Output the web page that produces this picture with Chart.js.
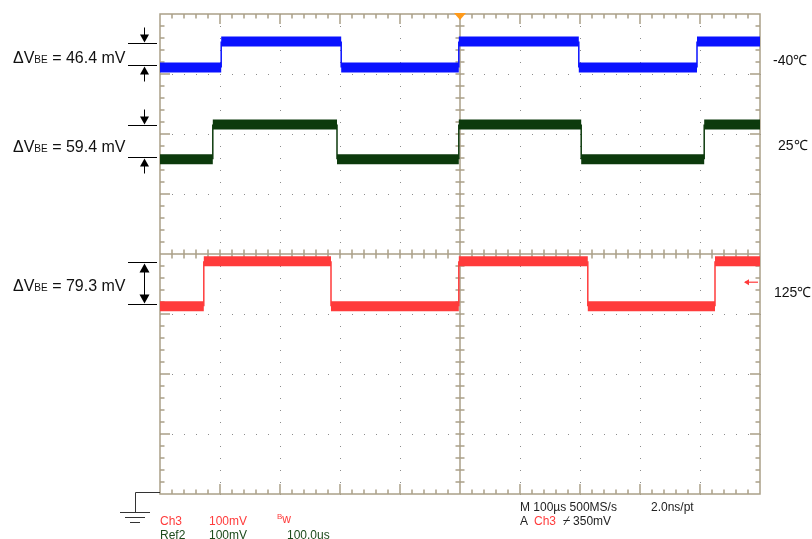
<!DOCTYPE html>
<html>
<head>
<meta charset="utf-8">
<script src="https://cdn.jsdelivr.net/npm/chart.js@4/dist/chart.umd.min.js"></script>
<style>
body{margin:0;background:#fff;}
#wrap{position:relative;width:812px;height:539px;overflow:hidden;font-family:"Liberation Sans",Arial,sans-serif;}
#wrap canvas{position:absolute;left:0;top:0;}
.lbl{position:absolute;white-space:nowrap;line-height:1;}
.dv{font-size:16px;color:#111;}
.dv span{font-size:10px;}
.temp{font-size:14px;color:#111;}
.info{font-size:12px;color:#222;}
.red{color:#ff3b3b;}
.grn{color:#1c4a1c;}
</style>
</head>
<body>
<div id="wrap">
  <canvas id="scope" width="812" height="539"></canvas>
  <div class="lbl dv" style="left:13px;top:50px">ΔV<span>BE</span> = 46.4 mV</div>
  <div class="lbl dv" style="left:13px;top:139px">ΔV<span>BE</span> = 59.4 mV</div>
  <div class="lbl dv" style="left:13px;top:278px">ΔV<span>BE</span> = 79.3 mV</div>
  <div class="lbl temp" style="left:773px;top:53px">-40℃</div>
  <div class="lbl temp" style="left:778px;top:138px">25℃</div>
  <div class="lbl temp" style="left:774px;top:285px">125℃</div>
  <div class="lbl info" style="left:520px;top:501px">M 100µs 500MS/s</div>
  <div class="lbl info" style="left:651px;top:501px">2.0ns/pt</div>
  <div class="lbl info" style="left:520px;top:515px">A <span class="red">&nbsp;Ch3</span> &nbsp;⌿ 350mV</div>
  <div class="lbl info red" style="left:160px;top:515px">Ch3</div>
  <div class="lbl info red" style="left:209px;top:515px">100mV</div>
  <div class="lbl info red" style="left:277px;top:513px"><span style="font-size:8px;vertical-align:top">B</span>w</div>
  <div class="lbl info grn" style="left:160px;top:529px">Ref2</div>
  <div class="lbl info grn" style="left:209px;top:529px">100mV</div>
  <div class="lbl info grn" style="left:287px;top:529px">100.0us</div>
</div>
<script>
'use strict';
// time in us (10 div x 100us), level in mV (8 div x 100mV)
let blueEdges = [0, 102, 302, 498, 698, 895, 1000];
let blueLevels = [311, 354, 311, 354, 311, 354];
let greenEdges = [0, 88, 295, 498, 702, 907, 1000];
let greenLevels = [158, 216, 158, 216, 158, 216];
let redEdges = [0, 73, 285, 498, 713, 925, 1000];
let redLevels = [-87, -12, -87, -12, -87, -12];
let triggerLevel = -47;
let frameColor = '#aaa088';

function buildTrace(edges, levels) {
    let pts = [];
    for (let i = 0; i < levels.length; i++) {
        pts.push({x: edges[i], y: levels[i]});
        pts.push({x: edges[i + 1], y: levels[i]});
    }
    return pts;
}

function traceSet(edges, levels, color) {
    return {
        data: buildTrace(edges, levels),
        borderColor: color,
        borderWidth: 10,
        borderCapStyle: 'butt',
        pointRadius: 0,
        tension: 0,
        segment: {
            borderWidth: ctx => ctx.p0.parsed.x === ctx.p1.parsed.x ? 1.5 : 10
        }
    };
}

let scopeFrame = {
    id: 'scopeFrame',
    beforeDatasetsDraw(chart) {
        let ctx = chart.ctx;
        let xs = chart.scales.x;
        let ys = chart.scales.y;
        let ca = chart.chartArea;
        ctx.save();
        // dotted grid
        ctx.fillStyle = '#8c8c8c';
        for (let t = 100; t < 1000; t += 100) {
            if (t === 500) continue;
            let px = Math.round(xs.getPixelForValue(t));
            for (let v = -400; v <= 400; v += 20) {
                ctx.fillRect(px, Math.round(ys.getPixelForValue(v)), 1, 1);
            }
        }
        for (let v = -300; v < 400; v += 100) {
            if (v === 0) continue;
            let py = Math.round(ys.getPixelForValue(v));
            for (let t = 0; t <= 1000; t += 20) {
                ctx.fillRect(Math.round(xs.getPixelForValue(t)), py, 1, 1);
            }
        }
        // frame and centre axes
        ctx.strokeStyle = frameColor;
        ctx.lineWidth = 1.5;
        ctx.strokeRect(ca.left, ca.top, ca.right - ca.left, ca.bottom - ca.top);
        let cx = xs.getPixelForValue(500);
        let cy = ys.getPixelForValue(0);
        ctx.beginPath();
        ctx.moveTo(cx, ca.top); ctx.lineTo(cx, ca.bottom);
        ctx.moveTo(ca.left, cy); ctx.lineTo(ca.right, cy);
        for (let t = 20; t < 1000; t += 20) {
            let px = xs.getPixelForValue(t);
            let len = t % 100 === 0 ? 10 : 4.5;
            ctx.moveTo(px, ca.top); ctx.lineTo(px, ca.top + len);
            ctx.moveTo(px, ca.bottom); ctx.lineTo(px, ca.bottom - len);
            ctx.moveTo(px, cy - 4.5); ctx.lineTo(px, cy + 4.5);
        }
        for (let v = -380; v < 400; v += 20) {
            let py = ys.getPixelForValue(v);
            let len = v % 100 === 0 ? 10 : 4.5;
            ctx.moveTo(ca.left, py); ctx.lineTo(ca.left + len, py);
            ctx.moveTo(ca.right, py); ctx.lineTo(ca.right - len, py);
            ctx.moveTo(cx - 4.5, py); ctx.lineTo(cx + 4.5, py);
        }
        ctx.stroke();
        ctx.restore();
    },
    afterDraw(chart) {
        let ctx = chart.ctx;
        let xs = chart.scales.x;
        let ys = chart.scales.y;
        let ca = chart.chartArea;
        ctx.save();
        // trigger position marker
        let tx = xs.getPixelForValue(500);
        ctx.fillStyle = '#ff9a1a';
        ctx.beginPath();
        ctx.moveTo(tx - 6, ca.top - 1); ctx.lineTo(tx + 6, ca.top - 1); ctx.lineTo(tx, ca.top + 6);
        ctx.fill();
        // trigger level arrow
        let ty = ys.getPixelForValue(triggerLevel);
        ctx.strokeStyle = '#ff3b3b';
        ctx.fillStyle = '#ff3b3b';
        ctx.lineWidth = 1.2;
        ctx.beginPath();
        ctx.moveTo(ca.right - 15, ty); ctx.lineTo(ca.right - 2, ty);
        ctx.stroke();
        ctx.beginPath();
        ctx.moveTo(ca.right - 16, ty); ctx.lineTo(ca.right - 11, ty - 3); ctx.lineTo(ca.right - 11, ty + 3);
        ctx.fill();
        // ground symbol
        ctx.strokeStyle = '#333';
        ctx.lineWidth = 1;
        let gy = ca.bottom - 1.5;
        ctx.beginPath();
        ctx.moveTo(ca.left, gy); ctx.lineTo(135.5, gy); ctx.lineTo(135.5, 512);
        ctx.moveTo(120, 512.5); ctx.lineTo(150, 512.5);
        ctx.moveTo(125, 517.5); ctx.lineTo(145, 517.5);
        ctx.moveTo(130, 522.5); ctx.lineTo(140, 522.5);
        ctx.stroke();
        // delta Vbe markers
        ctx.strokeStyle = '#000';
        ctx.fillStyle = '#000';
        let pairs = [[blueLevels[1], blueLevels[0], false], [greenLevels[1], greenLevels[0], false], [redLevels[1], redLevels[0], true]];
        pairs.forEach(function (p) {
            let yHi = Math.round(ys.getPixelForValue(p[0])) + 1.5;
            let yLo = Math.round(ys.getPixelForValue(p[1])) - 1.5;
            let ax = 144.5;
            ctx.beginPath();
            ctx.moveTo(128, yHi); ctx.lineTo(157, yHi);
            ctx.moveTo(128, yLo); ctx.lineTo(157, yLo);
            if (p[2]) {
                ctx.moveTo(ax, yHi + 8); ctx.lineTo(ax, yLo - 8);
            } else {
                ctx.moveTo(ax, yHi - 16); ctx.lineTo(ax, yHi - 8);
                ctx.moveTo(ax, yLo + 8); ctx.lineTo(ax, yLo + 16);
            }
            ctx.stroke();
            ctx.beginPath();
            if (p[2]) {
                ctx.moveTo(ax, yHi + 1); ctx.lineTo(ax - 5, yHi + 10); ctx.lineTo(ax + 5, yHi + 10);
                ctx.moveTo(ax, yLo - 1); ctx.lineTo(ax - 5, yLo - 10); ctx.lineTo(ax + 5, yLo - 10);
            } else {
                ctx.moveTo(ax, yHi - 1); ctx.lineTo(ax - 4.5, yHi - 9); ctx.lineTo(ax + 4.5, yHi - 9);
                ctx.moveTo(ax, yLo + 1); ctx.lineTo(ax - 4.5, yLo + 9); ctx.lineTo(ax + 4.5, yLo + 9);
            }
            ctx.fill();
        });
        ctx.restore();
    }
};

let chart = new Chart(document.getElementById('scope'), {
    type: 'line',
    data: {
        datasets: [
            traceSet(redEdges, redLevels, '#ff3b3b'),
            traceSet(greenEdges, greenLevels, '#0c3a0c'),
            traceSet(blueEdges, blueLevels, '#0a12ff')
        ]
    },
    options: {
        responsive: false,
        animation: false,
        layout: {padding: {left: 160, top: 14, right: 52, bottom: 45}},
        plugins: {legend: {display: false}, tooltip: {enabled: false}},
        scales: {
            x: {type: 'linear', min: 0, max: 1000, display: false},
            y: {type: 'linear', min: -400, max: 400, display: false}
        }
    },
    plugins: [scopeFrame]
});
</script>
</body>
</html>
